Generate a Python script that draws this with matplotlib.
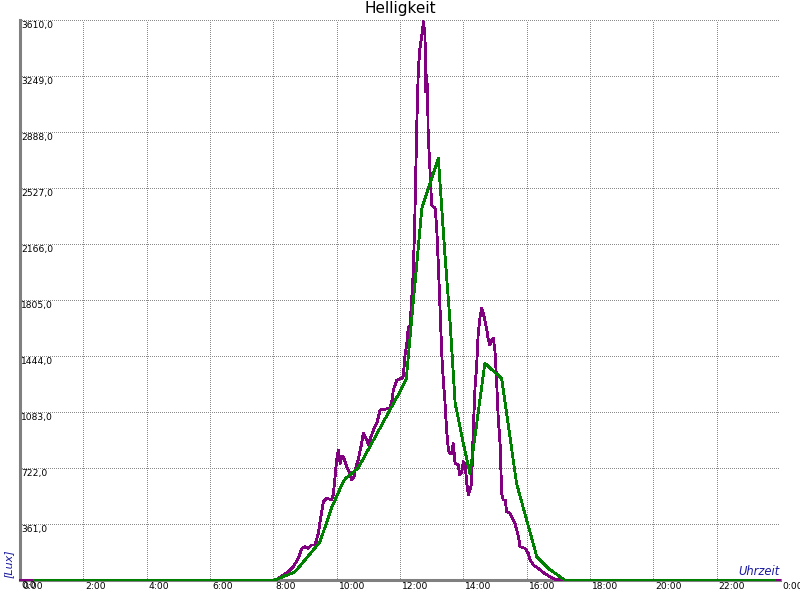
import numpy as np
import matplotlib
matplotlib.use("Agg")
import matplotlib.pyplot as plt

# Messwerte (Stunden, Lux)
mess_h = [0.0, 8.08, 8.16, 8.31, 8.47, 8.63, 8.79, 8.90, 9.00, 9.10, 9.21, 9.32, 9.42,
          9.50, 9.58, 9.69, 9.84, 9.89, 9.95, 10.00, 10.05, 10.11, 10.16, 10.21, 10.32,
          10.42, 10.47, 10.55, 10.58, 10.68, 10.79, 10.84, 10.95, 11.00, 11.05, 11.16,
          11.28, 11.37, 11.68, 11.74, 11.79, 11.90, 12.05, 12.10, 12.16, 12.21, 12.26,
          12.32, 12.37, 12.42, 12.47, 12.53, 12.58, 12.63, 12.69, 12.74, 12.79, 12.81,
          12.84, 12.87, 12.89, 12.95, 13.00, 13.11, 13.16, 13.21, 13.26, 13.32, 13.37,
          13.42, 13.47, 13.53, 13.58, 13.63, 13.68, 13.74, 13.84, 13.89, 13.95, 14.00,
          14.05, 14.11, 14.16, 14.21, 14.26, 14.31, 14.37, 14.42, 14.47, 14.53, 14.58,
          14.63, 14.68, 14.74, 14.79, 14.84, 14.89, 14.95, 15.00, 15.05, 15.10, 15.16,
          15.21, 15.26, 15.32, 15.37, 15.47, 15.53, 15.63, 15.74, 15.79, 15.95, 16.05,
          16.11, 16.21, 16.37, 16.58, 16.89, 17.05, 24.0]
mess_lux = [0, 0, 11, 32, 54, 86, 140, 204, 215, 204, 226, 226, 301,
            408, 505, 527, 516, 548, 666, 774, 838, 752, 795, 795, 730,
            688, 645, 666, 709, 774, 881, 946, 903, 870, 903, 967,
            1020, 1096, 1107, 1149, 1225, 1289, 1300, 1311, 1450, 1515, 1623,
            1644, 1816, 1987, 2353, 2933, 3299, 3428, 3513, 3599, 3513, 3148,
            3255, 3148, 2869, 2632, 2417, 2396, 2267, 2031, 1773, 1450, 1278,
            1149, 967, 838, 817, 817, 881, 752, 741, 677, 698, 763,
            752, 623, 548, 580, 623, 946, 1246, 1375, 1590, 1697, 1752,
            1719, 1676, 1612, 1547, 1515, 1547, 1558, 1472, 1289, 1053, 881,
            559, 516, 516, 440, 430, 408, 365, 279, 215, 204, 172,
            129, 97, 75, 39, 6, 0, 0]

# Mittelwerte
mittel_h = [0.47, 8.05, 8.68, 9.0, 9.47, 9.85, 10.2, 10.3, 10.68, 11.68, 12.0, 12.2,
            12.42, 12.69, 13.21, 13.42, 13.58, 13.74, 14.0, 14.21, 14.68, 15.21,
            15.68, 16.32, 16.68, 17.2, 23.84]
mittel_lux = [0, 0, 52, 129, 245, 470, 631, 658, 722, 1096, 1215, 1300,
              1794, 2396, 2718, 2095, 1665, 1141, 881, 688, 1397, 1300,
              623, 150, 75, 0, 0]

y_ticks = np.arange(0, 3611, 361)
x_ticks = np.arange(0, 25, 2)

fig = plt.figure(figsize=(8, 6), dpi=100)
ax = fig.add_axes([20/800, 20/600, 760/800, 560/600])

ax.plot(mess_h, mess_lux, color="#800080", linewidth=1.3, zorder=3, clip_on=False,
        antialiased=False)
ax.plot(mittel_h, mittel_lux, color="#008000", linewidth=1.3, zorder=4, clip_on=False,
        antialiased=False)

ax.set_xlim(0, 24)
ax.set_ylim(0, 3610)
ax.set_xticks(x_ticks)
ax.set_yticks(y_ticks)
ax.tick_params(length=0, labelbottom=False, labelleft=False)
ax.grid(True, color="#8a8a8a", linestyle=(0, (1, 1.2)), linewidth=0.72, antialiased=False)

for s in ["top", "right"]:
    ax.spines[s].set_visible(False)
for s in ["left", "bottom"]:
    ax.spines[s].set_color("#808080")
    ax.spines[s].set_linewidth(2.2)

for v in y_ticks:
    ax.annotate(("%.1f" % v).replace(".", ","), xy=(0, v), xycoords=ax.get_yaxis_transform(),
                xytext=(1, -1), textcoords="offset points", ha="left", va="top",
                fontsize=6.6, annotation_clip=False)
for h in x_ticks:
    ax.annotate("%d:00" % (h % 24), xy=(h, 0), xycoords=ax.get_xaxis_transform(),
                xytext=(1.5, -1.5), textcoords="offset points", ha="left", va="top",
                fontsize=6.6, annotation_clip=False)

fig.text(0.5, 1 - 8/600, "Helligkeit", ha="center", va="center", fontsize=11, weight="medium")
fig.text(9/800, 1 - 564/600, "[Lux]", rotation=90, ha="center", va="center",
         fontsize=8, style="italic", color="#1a1aa0")
ax.text(1.0, 0.004, "Uhrzeit", transform=ax.transAxes, ha="right", va="bottom",
        fontsize=8.3, style="italic", color="#1a1aa0")

fig.savefig("out.png", dpi=100)
